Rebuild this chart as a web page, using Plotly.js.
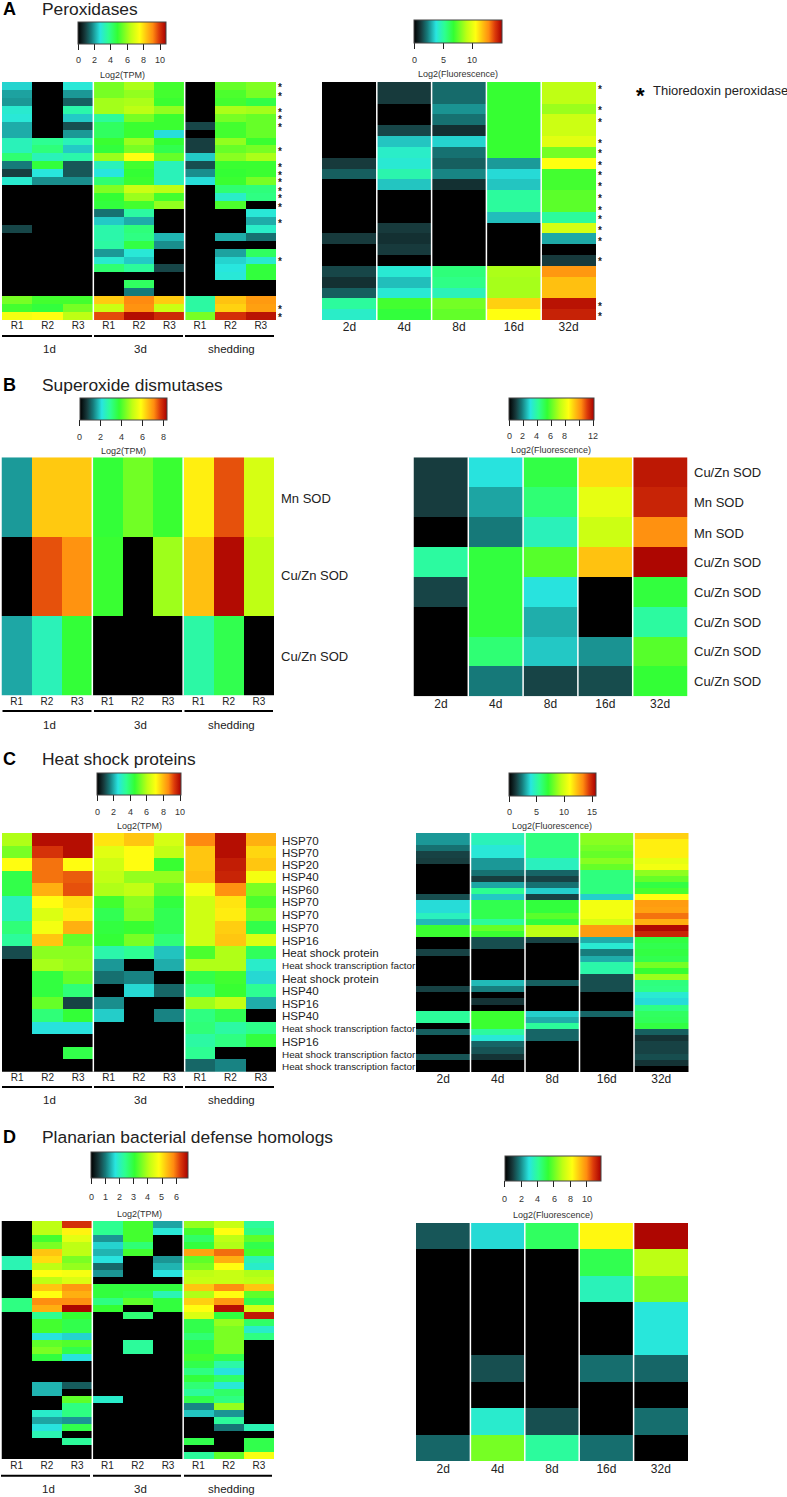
<!DOCTYPE html>
<html><head><meta charset="utf-8">
<script src="https://cdn.plot.ly/plotly-3.0.1.min.js"></script>
<style>html,body{margin:0;padding:0;background:#fff}</style></head>
<body><div id="chart" style="width:787px;height:1497px"></div>
<script>
const replicateLabels=['R1','R2','R3','R1','R2','R3','R1','R2','R3'];
const dayLabels=['2d','4d','8d','16d','32d'];
const groupLabels=['1d','3d','shedding'];
const hspLabels=['HSP70','HSP70','HSP20','HSP40','HSP60','HSP70','HSP70','HSP70','HSP16','Heat shock protein','Heat shock transcription factor','Heat shock protein','HSP40','HSP16','HSP40','Heat shock transcription factor','HSP16','Heat shock transcription factor','Heat shock transcription factor'];
const sodTpmLabels=['Mn SOD','Cu/Zn SOD','Cu/Zn SOD'];
const sodFluorLabels=['Cu/Zn SOD','Mn SOD','Mn SOD','Cu/Zn SOD','Cu/Zn SOD','Cu/Zn SOD','Cu/Zn SOD','Cu/Zn SOD'];

const peroxTpm=[
[2.5,0,2.8,5.6,6.2,5.0,0,5.4,5.7],
[2.0,0,1.9,5.6,5.9,5.0,0,5.1,5.6],
[1.9,0,1.3,6.1,6.2,4.9,0,5.0,4.6],
[2.9,0,3.4,6.1,6.4,5.9,0,6.2,6.1],
[2.8,0,2.4,3.6,5.6,4.9,0,5.6,5.4],
[2.1,0,1.1,4.3,4.9,4.9,1.0,5.0,5.4],
[2.1,0,1.9,4.3,4.9,2.6,0,5.0,5.4],
[3.2,3.7,3.2,4.9,6.0,4.8,0.9,5.9,4.9],
[3.2,4.0,2.4,4.7,5.6,4.5,0.9,5.4,5.6],
[4.1,3.2,3.4,6.0,7.5,5.4,2.4,5.8,6.2],
[1.6,4.7,1.2,3.2,5.0,3.2,1.1,4.9,4.9],
[0.9,2.7,1.2,2.7,4.8,3.2,1.8,4.8,4.9],
[2.9,1.8,1.8,4.1,4.9,3.2,2.6,4.9,5.6],
[0,0,0,5.7,6.6,6.4,0,4.1,4.0],
[0,0,0,4.8,6.0,5.0,0,3.0,3.9],
[0,0,0,4.7,5.0,5.9,0,5.1,0],
[0,0,0,1.5,3.5,0,0,0,2.8],
[0,0,0,2.4,2.1,0,0,0,2.1],
[1.0,0,0,3.4,4.0,0,0,0,3.0],
[0,0,0,3.4,3.9,2.2,0,2.1,1.5],
[0,0,0,3.5,4.6,1.8,0,0,0],
[0,0,0,1.9,2.8,0,0,2.0,4.3],
[0,0,0,2.9,2.4,0,0,2.5,2.9],
[0,0,0,4.1,3.6,1.0,0,2.7,4.7],
[0,0,0,0,0,0,0,2.8,4.7],
[0,0,0,0,4.3,0,0,0,0],
[0,0,0,0,1.6,0,0,0,0],
[5.6,5.0,5.0,8.2,9.1,8.2,3.5,8.3,8.9],
[5.0,4.7,5.6,6.6,9.0,6.6,3.5,8.1,8.8],
[7.3,7.5,6.4,9.7,10.5,10.1,5.6,10.0,10.4]];
const peroxFluor=[
[0,1.2,2.0,6.8,9.0],
[0,1.2,2.0,6.8,9.0],
[0,0,2.6,6.8,8.4],
[0,0,2.1,6.8,9.3],
[0,1.4,1.0,6.8,9.3],
[0,3.3,3.5,6.8,9.8],
[0,4.2,2.1,6.8,7.8],
[1.2,4.0,1.8,2.7,10.5],
[1.8,4.7,2.4,3.6,7.0],
[0,3.3,1.0,3.3,7.0],
[0,0,0,5.0,7.4],
[0,0,0,5.0,7.4],
[0,0,0,3.2,5.0],
[0,1.2,0,0,9.5],
[1.2,1.0,0,0,2.9],
[0,1.2,0,0,0],
[0,0,0,0,1.2],
[1.4,4.0,5.6,8.7,12.5],
[1.0,3.2,5.4,8.6,11.7],
[1.8,4.0,4.5,8.6,11.7],
[5.0,7.0,7.8,11.4,14.6],
[4.2,6.6,7.5,10.5,14.3]];
const sodTpm=[
[1.5,6.4,6.4,3.7,4.3,3.8,6.0,7.5,5.3],
[0,7.5,7.0,3.8,0,4.7,6.5,8.2,5.0],
[1.6,2.5,3.7,0,0,0,2.7,3.5,0]];
const sodFluor=[
[1.0,3.0,5.2,9.0,11.7],
[1.0,2.3,4.6,8.0,11.5],
[0,1.8,3.6,7.5,10.2],
[4.0,5.3,5.9,9.4,12.0],
[1.1,5.3,3.0,0,5.3],
[0,5.3,2.4,0,4.0],
[0,4.6,2.7,2.1,5.9],
[0,1.8,1.1,1.2,5.4]];
const hspTpm=[
[5.9,9.9,9.9,7.4,7.8,6.4,8.6,9.9,8.1],
[5.3,9.4,9.9,6.6,7.1,6.1,7.8,9.9,7.6],
[7.1,8.8,7.1,6.3,7.1,4.6,7.8,9.7,7.8],
[4.3,8.8,9.0,6.1,5.6,5.6,7.9,9.6,6.9],
[4.3,8.1,9.1,5.9,6.1,5.1,6.9,8.5,5.3],
[3.0,7.1,7.5,4.7,5.5,4.4,6.3,7.4,4.8],
[3.0,6.5,7.3,4.2,5.4,4.2,6.3,7.3,5.3],
[3.8,6.9,8.1,4.4,4.6,4.2,6.3,7.7,4.3],
[3.4,7.8,5.1,4.5,5.3,3.8,6.3,7.8,6.5],
[1.0,5.5,5.5,3.2,3.5,2.2,4.8,5.9,4.1],
[0,5.8,5.6,1.8,0,2.0,5.9,5.9,2.8],
[0,4.4,5.1,1.4,1.6,0,4.3,4.7,2.4],
[0,4.4,3.8,0,2.4,1.3,3.7,4.6,3.5],
[0,5.1,0.9,1.7,0,0,5.7,6.1,2.0],
[0,3.8,4.5,2.3,0,1.6,3.7,4.2,0],
[0,2.5,2.5,0,0,0,3.8,3.3,3.6],
[0,0,0,0,0,0,3.3,3.7,4.4],
[0,0,4.3,0,0,0,3.5,0,0],
[0,0,0,0,0,0,1.3,1.6,0]];
const hspFluor=[
[2.8,4.7,5.8,8.5,11.9],
[2.8,4.7,5.8,8.5,11.3],
[2.2,4.1,5.8,8.2,11.3],
[1.4,4.1,5.8,7.9,11.3],
[1.3,2.8,4.6,8.5,10.4],
[0,2.8,4.6,7.9,10.7],
[0,2.2,2.0,5.8,8.6],
[0,1.3,1.4,5.8,7.9],
[0,3.0,2.2,5.8,6.8],
[0,5.5,3.6,5.8,7.4],
[1.6,3.5,1.4,3.6,11.0],
[3.8,6.6,6.9,10.7,13.0],
[3.8,6.6,6.9,10.7,12.9],
[4.6,6.6,7.7,10.7,13.7],
[3.3,5.3,6.9,10.0,12.6],
[7.2,7.9,9.4,13.0,15.5],
[7.2,7.2,9.4,13.0,14.9],
[0,1.6,1.4,3.1,6.8],
[0,1.6,0,4.2,6.6],
[1.4,0,0,2.4,6.8],
[0,0,0,3.1,6.6],
[0,0,0,5.0,8.2],
[0,0,0,5.0,7.1],
[0,0,0,1.6,8.8],
[0,3.3,1.9,1.6,5.8],
[1.4,2.4,0,1.6,5.7],
[0,0,0,0,4.2],
[0,1.1,0,0,3.8],
[0,0,0,0,5.7],
[5.3,7.2,3.6,2.0,6.3],
[5.3,7.2,3.1,0,6.4],
[0,7.2,5.3,0,6.8],
[1.9,5.2,2.0,0,1.9],
[0,4.1,2.0,0,1.1],
[0,2.0,0,0,1.4],
[0,1.7,0,0,1.4],
[1.7,1.1,0,0,1.6],
[0,0,0,0,1.1],
[0,0,0,0,0]];
const defenseTpm=[
[0,4.1,6.4,2.4,3.2,1.3,3.8,4.2,2.3],
[0,4.1,4.9,2.4,3.2,1.8,3.2,4.8,2.5],
[0,3.2,4.5,1.2,3.2,0,2.7,4.1,3.4],
[0,3.6,4.1,1.6,2.6,0,3.0,4.0,2.9],
[0,5.3,4.1,1.4,3.2,0,5.6,6.0,3.2],
[2.1,5.1,3.6,1.7,0,1.2,3.4,5.5,2.1],
[2.1,4.1,3.8,0.9,0,1.4,3.6,4.8,1.9],
[0,4.8,4.7,1.2,0,1.7,4.1,4.2,4.0],
[0,4.1,4.4,0,0,0,4.2,4.2,4.1],
[0,5.3,5.7,3.0,3.0,3.0,5.3,5.8,5.3],
[0,4.8,5.5,3.0,2.9,2.1,4.0,4.8,3.4],
[2.5,5.8,5.8,2.5,3.4,3.0,5.2,5.7,2.9],
[2.5,5.5,6.8,3.1,0,3.0,4.8,6.7,4.3],
[0,2.4,3.1,0,2.6,0,4.4,3.0,6.6],
[0,3.2,2.9,0,0,0,2.9,3.8,2.7],
[0,3.2,2.9,0,0,0,2.9,3.6,1.9],
[0,1.7,1.6,0,0,0,2.6,3.6,2.5],
[0,3.4,3.3,0,2.3,0,3.0,3.6,0],
[0,3.6,2.9,0,2.3,0,3.0,3.6,0],
[0,3.0,1.7,0,0,0,3.2,2.9,0],
[0,0,0,0,0,0,2.9,2.2,0],
[0,0,0,0,0,0,2.5,1.7,0],
[0,0,0,0,0,0,3.0,2.7,0],
[0,1.4,0.8,0,0,0,2.6,1.8,0],
[0,1.4,0,0,0,0,2.3,2.7,0],
[0,0,3.4,1.9,0,0,2.9,2.5,0],
[0,0,2.5,0,0,0,1.1,3.8,0],
[0,1.9,2.5,0,0,0,1.5,1.2,0],
[0,1.3,1.2,0,0,0,0,2.3,0],
[0,1.7,2.9,0,0,0,0,1.0,2.1],
[0,2.1,0,0,0,0,0,0,0],
[0,0,2.3,0,0,0,2.9,0,2.9],
[0,0,0,0,0,0,0,0,2.9],
[0,0,0,0,0,0,2.3,3.4,4.7]];
const defenseFluor=[
[1.3,2.8,4.7,8.3,11.6],
[0,0,0,4.9,7.0],
[0,0,0,3.5,6.1],
[0,0,0,0,3.0],
[0,0,0,0,3.0],
[0,1.2,0,1.6,1.5],
[0,0,0,0,0],
[0,3.2,1.2,0,1.6],
[1.5,6.1,3.9,1.6,0]];

const W=787,H=1497,FONT='"Liberation Sans",Arial,sans-serif',INK='#222222';
const scale=[[0,'#000000'],[.08,'#173a3c'],[.15,'#167a7a'],[.25,'#28e5e0'],[.35,'#2dff90'],[.45,'#33ff33'],[.6,'#bfff14'],[.7,'#ffff10'],[.78,'#ffc010'],[.85,'#ff8c10'],[.92,'#dc3a0a'],[1,'#a80000']];
const px=x=>x/W, py=y=>1-y/H;

const panels=[
{z:peroxTpm,lab:replicateLabels,box:[2,276,82,320],zmax:10.7,bar:[78,166,21.7,43.7],tv:[0,2,4,6,8,10],tt:['0','2','4','6','8','10'],title:'Log2(TPM)',ly:60,ty:75,so:-2,fs:10},
{z:peroxFluor,lab:dayLabels,box:[322,596,82,320],zmax:15,bar:[414,501.7,20.5,43],tv:[0,5,10],tt:['0','5','10'],title:'Log2(Fluorescence)',ly:60,ty:74,so:-2,fs:12},
{z:sodTpm,lab:replicateLabels,box:[1.5,274,457.3,695.7],zmax:8.33,bar:[79.5,166.5,397.7,420],tv:[0,2,4,6,8],tt:['0','2','4','6','8'],title:'Log2(TPM)',ly:436.7,ty:451,so:-2,fs:10},
{z:sodFluor,lab:dayLabels,box:[413.5,687.5,457.3,696.3],zmax:12.1,bar:[509,593.5,397.7,420],tv:[0,2,4,6,8,10,12],tt:['0','2','4','6','8','','12'],title:'Log2(Fluorescence)',ly:436.3,ty:450,so:-1,fs:12},
{z:hspTpm,lab:replicateLabels,box:[2,276,833,1071.7],zmax:10.1,bar:[97,181,772.7,795],tv:[0,2,4,6,8,10],tt:['0','2','4','6','8','10'],title:'Log2(TPM)',ly:812,ty:826,so:-2,fs:10},
{z:hspFluor,lab:dayLabels,box:[416,688.5,833,1072],zmax:15.7,bar:[509,595.7,773,795.7],tv:[0,5,10,15],tt:['0','5','10','15'],title:'Log2(Fluorescence)',ly:812,ty:826,so:-2,fs:12},
{z:defenseTpm,lab:replicateLabels,box:[1.5,274,1221,1459],zmax:6.85,bar:[91.3,188,1152,1178],tv:[0,1,2,3,4,5,6],tt:['0','1','2','3','4','5','6'],title:'Log2(TPM)',ly:1197,ty:1214,so:-1,fs:10},
{z:defenseFluor,lab:dayLabels,box:[416,688,1223,1461],zmax:11.7,bar:[504.7,601,1156,1180.7],tv:[0,2,4,6,8,10],tt:['0','2','4','6','8','10'],title:'Log2(Fluorescence)',ly:1199,ty:1215,so:-1,fs:12}];

const layout={width:W,height:H,margin:{l:0,r:0,t:0,b:0},paper_bgcolor:'#fff',plot_bgcolor:'#fff',showlegend:false,font:{family:FONT,color:INK},annotations:[],shapes:[]};
const note=(text,x,y,size,o={})=>layout.annotations.push(Object.assign({text,xref:'paper',yref:'paper',x:px(x),y:py(y),showarrow:false,xanchor:'left',yanchor:'middle',font:{family:FONT,size,color:INK},borderpad:0,ax:0,ay:0},o));
const data=[];
panels.forEach((p,i)=>{
  const n=i?String(i+1):'';
  const cols=p.lab.map((_,k)=>k), rows=p.z.map((_,k)=>k);
  data.push({type:'heatmap',z:p.z,x:cols,y:rows,xaxis:'x'+n,yaxis:'y'+n,zmin:0,zmax:p.zmax,colorscale:scale,hoverongaps:false,
    colorbar:{orientation:'h',x:px(p.bar[0]),xanchor:'left',y:py(p.bar[2]),yanchor:'top',xref:'paper',yref:'paper',
      len:p.bar[1]-p.bar[0],lenmode:'pixels',thickness:p.bar[3]-p.bar[2],thicknessmode:'pixels',xpad:0,ypad:0,
      outlinewidth:1,outlinecolor:'#444',tickmode:'array',tickvals:p.tv,ticktext:p.tt,ticks:'outside',ticklen:6,tickwidth:1,tickcolor:'#222',
      showticklabels:false}});
  p.tv.forEach((v,k)=>note(p.tt[k],p.bar[0]+v/p.zmax*(p.bar[1]-p.bar[0]),p.ly,9,{xanchor:'center',font:{family:FONT,size:9,color:'#333'}}));
  layout['xaxis'+n]={domain:[px(p.box[0]),px(p.box[1])],anchor:'y'+n,range:[-.5,p.lab.length-.5],tickmode:'array',tickvals:cols,ticktext:p.lab,showgrid:false,zeroline:false,showline:false,ticks:'',ticklen:0,ticklabelstandoff:p.so,tickfont:{family:FONT,size:p.fs,color:INK},fixedrange:true};
  layout['yaxis'+n]={domain:[py(p.box[3]),py(p.box[2])],anchor:'x'+n,range:[p.z.length-.5,-.5],visible:false,fixedrange:true};
  const seps=p.lab.length===9?[2.5,5.5]:[.5,1.5,2.5,3.5];
  seps.forEach(s=>layout.shapes.push({type:'line',xref:'x'+n,yref:'y'+n+' domain',x0:s,x1:s,y0:0,y1:1,line:{color:'#fff',width:1.5},layer:'above'}));
  note(p.title,(p.bar[0]+p.bar[1])/2,p.ty,9,{xanchor:'center',font:{family:FONT,size:9,color:'#333'}});
});

// section headings
[['A','Peroxidases',9],['B','Superoxide dismutases',385],['C','Heat shock proteins',759],['D','Planarian bacterial defense homologs',1137]].forEach(([k,t,y])=>{
  note(k,2,y,18,{font:{family:FONT,size:18,color:'#000'},text:'<b>'+k+'</b>'});
  note(t,41,y,17.4);
});

// replicate group rulers and labels
const rulers=[
 {y:336,ly:349,seg:[[2,92],[94,183],[185,274]],c:[49,140,232]},
 {y:711,ly:725,seg:[[2.5,91.5],[94,182],[184.5,273]],c:[49,140,232]},
 {y:1087,ly:1100,seg:[[2,92],[94,183],[185,274]],c:[49,140,232]},
 {y:1475.7,ly:1489,seg:[[1,90],[93,181],[184,272]],c:[48,140,231]}];
rulers.forEach(r=>{
  r.seg.forEach(s=>layout.shapes.push({type:'line',xref:'paper',yref:'paper',x0:px(s[0]),x1:px(s[1]),y0:py(r.y),y1:py(r.y),line:{color:'#000',width:2}}));
  groupLabels.forEach((g,i)=>note(g,r.c[i],r.ly,11.5,{xanchor:'center'}));
});

// row labels
[498.3,575.7,656].forEach((y,i)=>note(sodTpmLabels[i],280,y,13));
[472.3,502.3,533,562,592,622,651.3,681.7].forEach((y,i)=>note(sodFluorLabels[i],693,y,13));
const hspY=[840,852,864.5,877,889.7,901.7,914.3,927.7,940,952.3,965,978.7,990,1003,1015.7,1028,1041.3,1054,1066];
hspY.forEach((y,i)=>{const long=hspLabels[i].indexOf('transcription')>0;note(hspLabels[i],281,y,long?9.9:11.6);});

// thioredoxin peroxidase markers
const starsLeft=[257,283,332,353,377,447,497,519,542,568,589,617,665,779,921,947];
const starsRight=[262,327,362,423,455,489,520,555,590,624,652,684,718,779,914,945];
starsLeft.forEach(y=>note('<b>*</b>',280,y/3+2,10,{xanchor:'center'}));
starsRight.forEach(y=>note('<b>*</b>',600,y/3+2,10,{xanchor:'center'}));
note('<b>*</b>',640,96,22,{xanchor:'center',font:{family:FONT,size:22,color:'#000'}});
note('Thioredoxin peroxidase',652,91,13);

Plotly.newPlot('chart',data,layout,{staticPlot:true,displayModeBar:false});
</script></body></html>
